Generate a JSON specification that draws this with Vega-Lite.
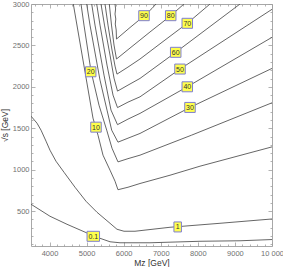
{
  "$schema": "https://vega.github.io/schema/vega-lite/v6.json",
  "width": 241,
  "height": 242,
  "autosize": {"type": "none"},
  "padding": {"left": 31, "top": 4, "right": 11, "bottom": 21},
  "config": {
    "view": {"stroke": "#a8a8a8", "strokeWidth": 1},
    "axis": {
      "domain": false,
      "grid": false,
      "tickColor": "#a0a0a0",
      "tickWidth": 0.8,
      "labelColor": "#707070",
      "labelFont": "Liberation Sans",
      "labelFontSize": 7.5,
      "titleFont": "Liberation Sans",
      "titleFontSize": 8.5,
      "titleFontWeight": "normal",
      "titleColor": "#333333"
    }
  },
  "datasets": {
    "contours": [
      {"level": "90", "i": 0, "mz": 5766, "rs": 3000},
      {"level": "90", "i": 1, "mz": 5782, "rs": 2940},
      {"level": "90", "i": 2, "mz": 5766, "rs": 2879},
      {"level": "90", "i": 3, "mz": 5787, "rs": 2819},
      {"level": "90", "i": 4, "mz": 5773, "rs": 2758},
      {"level": "90", "i": 5, "mz": 5798, "rs": 2686},
      {"level": "90", "i": 6, "mz": 5806, "rs": 2577},
      {"level": "90", "i": 7, "mz": 6170, "rs": 2716},
      {"level": "90", "i": 8, "mz": 6548, "rs": 2855},
      {"level": "90", "i": 9, "mz": 6763, "rs": 2946},
      {"level": "90", "i": 10, "mz": 6871, "rs": 3000},
      {"level": "80", "i": 0, "mz": 5612, "rs": 3000},
      {"level": "80", "i": 1, "mz": 5671, "rs": 2746},
      {"level": "80", "i": 2, "mz": 5739, "rs": 2505},
      {"level": "80", "i": 3, "mz": 5806, "rs": 2336},
      {"level": "80", "i": 4, "mz": 6170, "rs": 2468},
      {"level": "80", "i": 5, "mz": 6709, "rs": 2662},
      {"level": "80", "i": 6, "mz": 7268, "rs": 2859},
      {"level": "80", "i": 7, "mz": 7626, "rs": 3000},
      {"level": "70", "i": 0, "mz": 5496, "rs": 3000},
      {"level": "70", "i": 1, "mz": 5577, "rs": 2746},
      {"level": "70", "i": 2, "mz": 5685, "rs": 2444},
      {"level": "70", "i": 3, "mz": 5766, "rs": 2251},
      {"level": "70", "i": 4, "mz": 5819, "rs": 2154},
      {"level": "70", "i": 5, "mz": 6116, "rs": 2239},
      {"level": "70", "i": 6, "mz": 6440, "rs": 2336},
      {"level": "70", "i": 7, "mz": 7114, "rs": 2565},
      {"level": "70", "i": 8, "mz": 7715, "rs": 2767},
      {"level": "70", "i": 9, "mz": 8328, "rs": 3000},
      {"level": "60", "i": 0, "mz": 5388, "rs": 3000},
      {"level": "60", "i": 1, "mz": 5482, "rs": 2746},
      {"level": "60", "i": 2, "mz": 5631, "rs": 2384},
      {"level": "60", "i": 3, "mz": 5739, "rs": 2106},
      {"level": "60", "i": 4, "mz": 5833, "rs": 1949},
      {"level": "60", "i": 5, "mz": 6116, "rs": 2021},
      {"level": "60", "i": 6, "mz": 6440, "rs": 2102},
      {"level": "60", "i": 7, "mz": 7403, "rs": 2417},
      {"level": "60", "i": 8, "mz": 9137, "rs": 3000},
      {"level": "50", "i": 0, "mz": 5272, "rs": 3000},
      {"level": "50", "i": 1, "mz": 5361, "rs": 2746},
      {"level": "50", "i": 2, "mz": 5550, "rs": 2263},
      {"level": "50", "i": 3, "mz": 5712, "rs": 1901},
      {"level": "50", "i": 4, "mz": 5833, "rs": 1750},
      {"level": "50", "i": 5, "mz": 6116, "rs": 1816},
      {"level": "50", "i": 6, "mz": 6440, "rs": 1880},
      {"level": "50", "i": 7, "mz": 7519, "rs": 2215},
      {"level": "50", "i": 8, "mz": 10000, "rs": 2936},
      {"level": "40", "i": 0, "mz": 5137, "rs": 3000},
      {"level": "40", "i": 1, "mz": 5226, "rs": 2746},
      {"level": "40", "i": 2, "mz": 5469, "rs": 2142},
      {"level": "40", "i": 3, "mz": 5658, "rs": 1720},
      {"level": "40", "i": 4, "mz": 5833, "rs": 1544},
      {"level": "40", "i": 5, "mz": 6116, "rs": 1611},
      {"level": "40", "i": 6, "mz": 6440, "rs": 1680},
      {"level": "40", "i": 7, "mz": 7715, "rs": 2001},
      {"level": "40", "i": 8, "mz": 10000, "rs": 2598},
      {"level": "30", "i": 0, "mz": 5002, "rs": 3000},
      {"level": "30", "i": 1, "mz": 5091, "rs": 2746},
      {"level": "30", "i": 2, "mz": 5361, "rs": 2082},
      {"level": "30", "i": 3, "mz": 5550, "rs": 1720},
      {"level": "30", "i": 4, "mz": 5676, "rs": 1478},
      {"level": "30", "i": 5, "mz": 5846, "rs": 1333},
      {"level": "30", "i": 6, "mz": 6116, "rs": 1381},
      {"level": "30", "i": 7, "mz": 6440, "rs": 1438},
      {"level": "30", "i": 8, "mz": 7788, "rs": 1752},
      {"level": "30", "i": 9, "mz": 10000, "rs": 2223},
      {"level": "20", "i": 0, "mz": 4849, "rs": 3000},
      {"level": "20", "i": 1, "mz": 4929, "rs": 2746},
      {"level": "20", "i": 2, "mz": 5118, "rs": 2191},
      {"level": "20", "i": 3, "mz": 5334, "rs": 1780},
      {"level": "20", "i": 4, "mz": 5542, "rs": 1478},
      {"level": "20", "i": 5, "mz": 5685, "rs": 1260},
      {"level": "20", "i": 6, "mz": 5846, "rs": 1095},
      {"level": "20", "i": 7, "mz": 6116, "rs": 1134},
      {"level": "20", "i": 8, "mz": 6440, "rs": 1176},
      {"level": "20", "i": 9, "mz": 7834, "rs": 1418},
      {"level": "20", "i": 10, "mz": 10000, "rs": 1808},
      {"level": "10", "i": 0, "mz": 4641, "rs": 3000},
      {"level": "10", "i": 1, "mz": 4902, "rs": 2324},
      {"level": "10", "i": 2, "mz": 5172, "rs": 1623},
      {"level": "10", "i": 3, "mz": 5307, "rs": 1418},
      {"level": "10", "i": 4, "mz": 5442, "rs": 1176},
      {"level": "10", "i": 5, "mz": 5631, "rs": 995},
      {"level": "10", "i": 6, "mz": 5766, "rs": 862},
      {"level": "10", "i": 7, "mz": 5846, "rs": 759},
      {"level": "10", "i": 8, "mz": 6116, "rs": 789},
      {"level": "10", "i": 9, "mz": 6440, "rs": 834},
      {"level": "10", "i": 10, "mz": 7249, "rs": 934},
      {"level": "10", "i": 11, "mz": 8058, "rs": 1043},
      {"level": "10", "i": 12, "mz": 10000, "rs": 1276},
      {"level": "1", "i": 0, "mz": 3500, "rs": 1647},
      {"level": "1", "i": 1, "mz": 3662, "rs": 1562},
      {"level": "1", "i": 2, "mz": 3770, "rs": 1478},
      {"level": "1", "i": 3, "mz": 3905, "rs": 1345},
      {"level": "1", "i": 4, "mz": 4012, "rs": 1236},
      {"level": "1", "i": 5, "mz": 4174, "rs": 1103},
      {"level": "1", "i": 6, "mz": 4390, "rs": 970},
      {"level": "1", "i": 7, "mz": 4687, "rs": 789},
      {"level": "1", "i": 8, "mz": 4983, "rs": 620},
      {"level": "1", "i": 9, "mz": 5280, "rs": 487},
      {"level": "1", "i": 10, "mz": 5631, "rs": 354},
      {"level": "1", "i": 11, "mz": 5819, "rs": 282},
      {"level": "1", "i": 12, "mz": 6008, "rs": 258},
      {"level": "1", "i": 13, "mz": 6305, "rs": 258},
      {"level": "1", "i": 14, "mz": 7249, "rs": 306},
      {"level": "1", "i": 15, "mz": 8597, "rs": 354},
      {"level": "1", "i": 16, "mz": 10000, "rs": 406},
      {"level": "0.1", "i": 0, "mz": 3500, "rs": 584},
      {"level": "0.1", "i": 1, "mz": 4012, "rs": 439},
      {"level": "0.1", "i": 2, "mz": 4471, "rs": 342},
      {"level": "0.1", "i": 3, "mz": 5010, "rs": 237},
      {"level": "0.1", "i": 4, "mz": 5172, "rs": 197},
      {"level": "0.1", "i": 5, "mz": 5361, "rs": 173},
      {"level": "0.1", "i": 6, "mz": 5631, "rs": 131},
      {"level": "0.1", "i": 7, "mz": 5900, "rs": 119},
      {"level": "0.1", "i": 8, "mz": 6709, "rs": 119},
      {"level": "0.1", "i": 9, "mz": 8058, "rs": 137},
      {"level": "0.1", "i": 10, "mz": 9137, "rs": 143},
      {"level": "0.1", "i": 11, "mz": 10000, "rs": 158}
    ],
    "labels": [
      {"label": "90", "mz": 6548, "rs": 2859},
      {"label": "80", "mz": 7268, "rs": 2859},
      {"label": "70", "mz": 7715, "rs": 2767},
      {"label": "60", "mz": 7403, "rs": 2417},
      {"label": "50", "mz": 7519, "rs": 2215},
      {"label": "40", "mz": 7715, "rs": 2001},
      {"label": "30", "mz": 7788, "rs": 1752},
      {"label": "20", "mz": 5110, "rs": 2182},
      {"label": "10", "mz": 5253, "rs": 1514},
      {"label": "1", "mz": 7456, "rs": 310},
      {"label": "0.1", "mz": 5180, "rs": 197}
    ]
  },
  "resolve": {"axis": {"x": "independent", "y": "independent"}},
  "layer": [
    {
      "data": {"name": "contours"},
      "mark": {"type": "line", "color": "#555555", "strokeWidth": 0.9, "clip": true},
      "encoding": {
        "x": {
          "field": "mz", "type": "quantitative",
          "scale": {"domain": [3500, 10000], "nice": false, "zero": false},
          "axis": {
            "orient": "bottom",
            "values": [3600, 3800, 4000, 4200, 4400, 4600, 4800, 5000, 5200, 5400, 5600, 5800, 6000, 6200, 6400, 6600, 6800, 7000, 7200, 7400, 7600, 7800, 8000, 8200, 8400, 8600, 8800, 9000, 9200, 9400, 9600, 9800, 10000],
            "format": "d",
            "labelExpr": "datum.value % 1000 === 0 ? (datum.value === 10000 ? '10 000' : datum.label) : ''",
            "tickSize": {"condition": {"test": "datum.value % 1000 === 0", "value": -4}, "value": -2},
            "labelPadding": 7,
            "labelFlush": false,
            "title": "Mz [GeV]",
            "titlePadding": 2
          }
        },
        "y": {
          "field": "rs", "type": "quantitative",
          "scale": {"domain": [80, 3000], "nice": false, "zero": false},
          "axis": {
            "orient": "left",
            "values": [100, 200, 300, 400, 500, 600, 700, 800, 900, 1000, 1100, 1200, 1300, 1400, 1500, 1600, 1700, 1800, 1900, 2000, 2100, 2200, 2300, 2400, 2500, 2600, 2700, 2800, 2900, 3000],
            "format": "d",
            "labelExpr": "datum.value % 500 === 0 ? datum.label : ''",
            "tickSize": {"condition": {"test": "datum.value % 500 === 0", "value": -4}, "value": -2},
            "labelPadding": 6,
            "labelFlush": false,
            "title": "√s [GeV]",
            "titlePadding": 3
          }
        },
        "detail": {"field": "level", "type": "nominal"},
        "order": {"field": "i", "type": "quantitative"}
      }
    },
    {
      "data": {"name": "labels"},
      "mark": {"type": "point", "filled": true, "fill": "#ffff4d", "stroke": "#7f7fd0", "strokeWidth": 1, "size": 100, "opacity": 1, "strokeOpacity": 1},
      "encoding": {
        "x": {"field": "mz", "type": "quantitative", "axis": null},
        "y": {"field": "rs", "type": "quantitative", "axis": null},
        "shape": {
          "field": "label", "type": "nominal", "legend": null,
          "scale": {
            "domain": ["0.1", "1", "10", "20", "30", "40", "50", "60", "70", "80", "90"],
            "range": ["M-1.25,-1H1.25V1H-1.25Z", "M-0.75,-1H0.75V1H-0.75Z", "M-1.05,-1H1.05V1H-1.05Z", "M-1.05,-1H1.05V1H-1.05Z", "M-1.05,-1H1.05V1H-1.05Z", "M-1.05,-1H1.05V1H-1.05Z", "M-1.05,-1H1.05V1H-1.05Z", "M-1.05,-1H1.05V1H-1.05Z", "M-1.05,-1H1.05V1H-1.05Z", "M-1.05,-1H1.05V1H-1.05Z", "M-1.05,-1H1.05V1H-1.05Z"]
          }
        }
      }
    },
    {
      "data": {"name": "labels"},
      "mark": {"type": "text", "font": "Liberation Sans", "fontSize": 7, "color": "#333333", "baseline": "middle", "align": "center", "dy": 0.5},
      "encoding": {
        "x": {"field": "mz", "type": "quantitative", "axis": null},
        "y": {"field": "rs", "type": "quantitative", "axis": null},
        "text": {"field": "label", "type": "nominal"}
      }
    },
    {
      "data": {"name": "labels"},
      "mark": {"type": "point", "opacity": 0},
      "encoding": {
        "x": {
          "field": "mz", "type": "quantitative",
          "axis": {
            "orient": "top", "labels": false, "title": null,
            "values": [3600, 3800, 4000, 4200, 4400, 4600, 4800, 5000, 5200, 5400, 5600, 5800, 6000, 6200, 6400, 6600, 6800, 7000, 7200, 7400, 7600, 7800, 8000, 8200, 8400, 8600, 8800, 9000, 9200, 9400, 9600, 9800, 10000],
            "tickSize": {"condition": {"test": "datum.value % 1000 === 0", "value": -4}, "value": -2}
          }
        },
        "y": {
          "field": "rs", "type": "quantitative",
          "axis": {
            "orient": "right", "labels": false, "title": null,
            "values": [100, 200, 300, 400, 500, 600, 700, 800, 900, 1000, 1100, 1200, 1300, 1400, 1500, 1600, 1700, 1800, 1900, 2000, 2100, 2200, 2300, 2400, 2500, 2600, 2700, 2800, 2900, 3000],
            "tickSize": {"condition": {"test": "datum.value % 500 === 0", "value": -4}, "value": -2}
          }
        }
      }
    }
  ]
}
